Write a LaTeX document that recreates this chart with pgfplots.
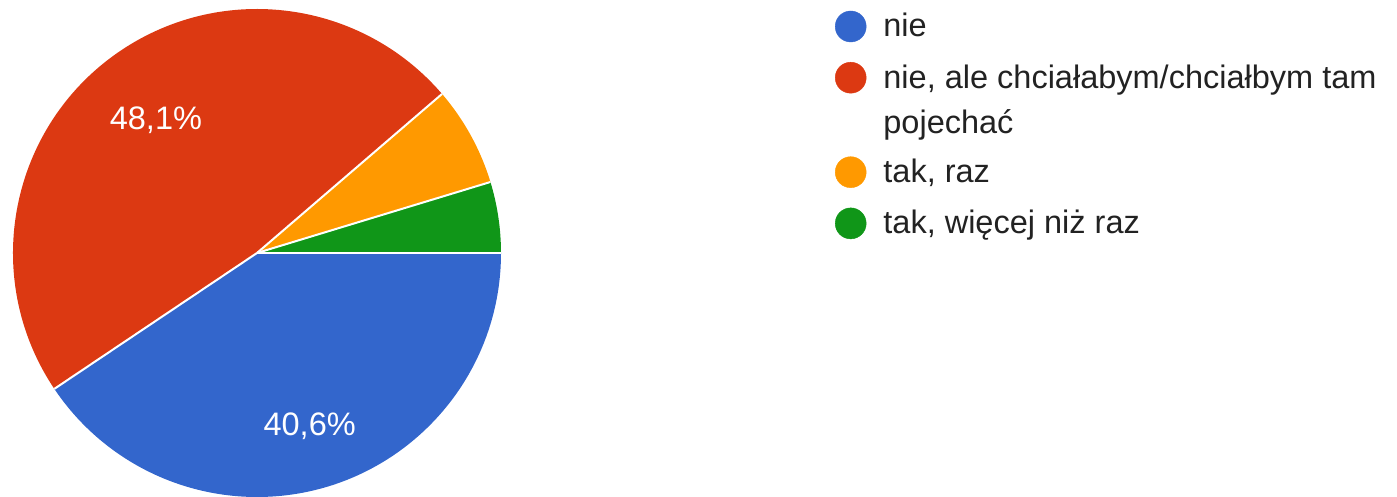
\documentclass[border=0pt]{standalone}
\usepackage{pgfplots}
\pgfplotsset{compat=1.18}
\usepackage{pgfplotstable}
\usepackage{fontspec}
\setmainfont{Liberation Sans}
\definecolor{gblue}{HTML}{3366CC}
\definecolor{gred}{HTML}{DC3912}
\definecolor{gorange}{HTML}{FF9900}
\definecolor{ggreen}{HTML}{109618}
\definecolor{legtext}{HTML}{222222}
\newcommand\lstrut{\rule[-12pt]{0pt}{42pt}}

\pgfplotstableread{
label value
nie 40.6
nieale 48.1
takraz 6.6
takwiecej 4.7
}\piedata

\begin{document}
\begin{tikzpicture}
\pgfplotstablegetelem{0}{value}\of\piedata \let\vA\pgfplotsretval
\pgfplotstablegetelem{1}{value}\of\piedata \let\vB\pgfplotsretval
\pgfplotstablegetelem{2}{value}\of\piedata \let\vC\pgfplotsretval
\pgfplotstablegetelem{3}{value}\of\piedata \let\vD\pgfplotsretval
\pgfmathsetmacro{\aA}{-3.6*\vA}
\pgfmathsetmacro{\aB}{\aA-3.6*\vB}
\pgfmathsetmacro{\aC}{\aB-3.6*\vC}
\pgfmathsetmacro{\aD}{\aC-3.6*\vD}
\pgfmathsetmacro{\mA}{\aA/2}
\pgfmathsetmacro{\mB}{(\aA+\aB)/2}
\begin{axis}[
  scale only axis, width=1397pt, height=497pt,
  xmin=0, xmax=1397, ymin=0, ymax=497,
  hide axis, clip=false,
  legend image code/.code={\fill[#1] (15.5pt,10.5pt) circle (15.5pt);},
  legend style={at={(axis cs:835,492)}, anchor=north west,
    inner sep=0pt, outer sep=0pt, draw=none, fill=none,
    row sep=14pt, column sep=15pt, text=legtext,
    font=\fontsize{32.5}{45}\selectfont,
    cells={anchor=base west, inner sep=0pt}},
]
% picture frame = axis area
\path (axis cs:0,0) rectangle (axis cs:1397,497);
% pie slices (clockwise from 3 o'clock)
\fill[overlay, gblue]   (axis cs:257,244) -- ++(0:244pt)   arc[start angle=0,   end angle=\aA, radius=244pt] -- cycle;
\fill[overlay, gred]    (axis cs:257,244) -- ++(\aA:244pt) arc[start angle=\aA, end angle=\aB, radius=244pt] -- cycle;
\fill[overlay, gorange] (axis cs:257,244) -- ++(\aB:244pt) arc[start angle=\aB, end angle=\aC, radius=244pt] -- cycle;
\fill[overlay, ggreen]  (axis cs:257,244) -- ++(\aC:244pt) arc[start angle=\aC, end angle=\aD, radius=244pt] -- cycle;
\draw[overlay, white, line width=2pt] (axis cs:257,244) -- ++(0:244pt);
\draw[overlay, white, line width=2pt] (axis cs:257,244) -- ++(\aA:244pt);
\draw[overlay, white, line width=2pt] (axis cs:257,244) -- ++(\aB:244pt);
\draw[overlay, white, line width=2pt] (axis cs:257,244) -- ++(\aC:244pt);
\path (axis cs:257,244) ++(\mB:167pt) node[white, font=\fontsize{32.5}{38}\selectfont] {48,1\%};
\path (axis cs:257,244) ++(\mA:181pt) node[white, font=\fontsize{32.5}{38}\selectfont] {40,6\%};
\addlegendimage{gblue}
\addlegendentry{\lstrut nie}
\addlegendimage{gred, yshift=45pt}
\addlegendentry[align=left]{\lstrut nie, ale chciałabym/chciałbym tam\\\lstrut pojechać}
\addlegendimage{gorange}
\addlegendentry{\lstrut tak, raz}
\addlegendimage{ggreen}
\addlegendentry{\lstrut tak, więcej niż raz}
\end{axis}
\end{tikzpicture}
\end{document}
